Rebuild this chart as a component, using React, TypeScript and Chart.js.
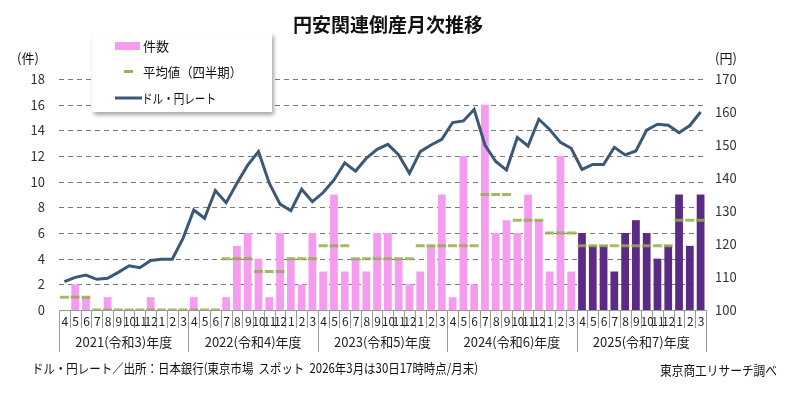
import { useRef, useEffect } from 'react';
import { Chart } from 'chart.js/auto';

// fiscal year = April .. March
const fiscalYears = ['2021(令和3)年度', '2022(令和4)年度', '2023(令和5)年度', '2024(令和6)年度', '2025(令和7)年度'];
const months = ['4', '5', '6', '7', '8', '9', '10', '11', '12', '1', '2', '3'];

// monthly bankruptcies (件)
const counts2021 = [0, 2, 1, 0, 1, 0, 0, 0, 1, 0, 0, 0];
const counts2022 = [1, 0, 0, 1, 5, 6, 4, 1, 6, 4, 2, 6];
const counts2023 = [3, 9, 3, 4, 3, 6, 6, 4, 2, 3, 5, 9];
const counts2024 = [1, 12, 2, 16, 6, 7, 6, 9, 7, 3, 12, 3];
const counts2025 = [6, 5, 5, 3, 6, 7, 6, 4, 5, 9, 5, 9];

// quarterly average (as plotted)
const quarterAvg = [
    [1, 0, 0, 0],
    [0, 4, 3, 4],
    [5, 4, 4, 5],
    [5, 9, 7, 6],
    [5, 5, 5, 7],
];

// USD/JPY month-end rate (円)
const rate2021 = [108.6, 109.9, 110.6, 109.3, 109.6, 111.4, 113.4, 112.8, 115.0, 115.4, 115.4, 121.7];
const rate2022 = [130.3, 127.8, 136.2, 132.5, 138.4, 143.9, 148.0, 138.4, 132.1, 130.1, 136.6, 132.8];
const rate2023 = [135.6, 139.4, 144.6, 142.1, 146.0, 148.7, 150.2, 147.0, 141.4, 148.0, 150.0, 151.7];
const rate2024 = [156.8, 157.3, 160.8, 150.0, 145.0, 142.4, 152.3, 149.7, 157.8, 154.7, 150.8, 149.0];
const rate2025 = [142.6, 144.1, 144.1, 149.3, 147.0, 148.2, 154.5, 156.3, 156.0, 153.7, 155.9, 160.0];

const leftTicks = [0, 18, 2];
const rightTicks = [100, 170, 10];

const FONT = '"Noto Sans CJK JP", "Noto Sans", sans-serif';
const PINK = '#f59cf0';
const PURPLE = '#5b2a84';
const LINE = '#3b5877';
const GREEN = '#9bb05a';

const labels = fiscalYears.flatMap(() => months.map((m) => m));
const counts = [...counts2021, ...counts2022, ...counts2023, ...counts2024, ...counts2025];
const rates = [...rate2021, ...rate2022, ...rate2023, ...rate2024, ...rate2025];
const avgs = quarterAvg.flatMap((q) => q.flatMap((v) => [v, v, v]));
const barColors = counts.map((_, i) => (i >= 48 ? PURPLE : PINK));

const overlay = {
    id: 'overlay',
    beforeDatasetsDraw(chart: any) {
        const { ctx, chartArea, scales } = chart;
        const x = scales.x;
        const y = scales.y;
        const w = x.getPixelForValue(1) - x.getPixelForValue(0);
        const bottom = chartArea.bottom;
        ctx.save();

        // dashed gridlines
        ctx.strokeStyle = '#7a7a7a';
        ctx.lineWidth = 1;
        ctx.setLineDash([5, 4]);
        ctx.beginPath();
        y.ticks.forEach((t: any) => {
            if (t.value === 0) return;
            const py = Math.round(y.getPixelForValue(t.value)) + 0.5;
            ctx.moveTo(chartArea.left, py);
            ctx.lineTo(chartArea.right, py);
        });
        ctx.stroke();
        ctx.setLineDash([]);

        // category axis cells
        ctx.strokeStyle = '#9a9a9a';
        ctx.beginPath();
        ctx.moveTo(chartArea.left, bottom + 0.5);
        ctx.lineTo(chartArea.right, bottom + 0.5);
        for (let i = 0; i <= labels.length; i++) {
            const bx = Math.round(x.getPixelForValue(0) - w / 2 + i * w) + 0.5;
            const long = i % 12 === 0;
            ctx.moveTo(bx, bottom);
            ctx.lineTo(bx, bottom + (long ? 42 : 18));
        }
        ctx.stroke();

        ctx.fillStyle = '#222';
        ctx.textAlign = 'center';
        ctx.textBaseline = 'middle';
        ctx.font = `12px ${FONT}`;
        labels.forEach((l, i) => {
            ctx.fillText(l, x.getPixelForValue(i) + 0.5, bottom + 11, w + 2);
        });
        ctx.font = `13px ${FONT}`;
        fiscalYears.forEach((fy, k) => {
            const cx = (x.getPixelForValue(k * 12) + x.getPixelForValue(k * 12 + 11)) / 2;
            ctx.fillText(fy, cx, bottom + 32);
        });
        ctx.restore();
    },
    afterDraw(chart: any) {
        const { ctx } = chart;
        ctx.save();
        ctx.fillStyle = '#111';
        ctx.textBaseline = 'middle';

        ctx.font = `bold 19px ${FONT}`;
        ctx.textAlign = 'center';
        ctx.fillText('円安関連倒産月次推移', 388, 25);

        ctx.font = `13px ${FONT}`;
        ctx.textAlign = 'left';
        ctx.fillText('(件)', 17, 58);
        ctx.fillText('(円)', 715, 58);
        ctx.fillText('ドル・円レート／出所：日本銀行(東京市場  スポット  2026年3月は30日17時時点/月末)', 32, 368, 446);
        ctx.fillText('東京商工リサーチ調べ', 660, 370, 117);

        // legend box
        ctx.shadowColor = 'rgba(0,0,0,0.35)';
        ctx.shadowBlur = 4;
        ctx.shadowOffsetX = 2;
        ctx.shadowOffsetY = 3;
        ctx.fillStyle = '#fff';
        ctx.fillRect(92, 33, 180, 79);
        ctx.shadowColor = 'transparent';

        ctx.fillStyle = PINK;
        ctx.fillRect(115, 42, 25, 8);
        ctx.fillStyle = GREEN;
        ctx.fillRect(124, 70, 9, 3);
        ctx.strokeStyle = LINE;
        ctx.lineWidth = 3;
        ctx.beginPath();
        ctx.moveTo(115, 98);
        ctx.lineTo(142, 98);
        ctx.stroke();

        ctx.fillStyle = '#111';
        ctx.fillText('件数', 143, 46);
        ctx.fillText('平均値（四半期）', 143, 72, 99);
        ctx.fillText('ドル・円レート', 142, 98, 74);
        ctx.restore();
    },
};

const App = () => {
    const canvasRef = useRef(null);
    const chartRef = useRef(null);

    useEffect(() => {
        if (!canvasRef.current) return;
        document.body.style.margin = '0';
        if (chartRef.current) chartRef.current.destroy();

        chartRef.current = new Chart(canvasRef.current, {
            type: 'bar',
            data: {
                labels,
                datasets: [
                    {
                        type: 'line',
                        label: 'ドル・円レート',
                        data: rates,
                        yAxisID: 'y2',
                        borderColor: LINE,
                        borderWidth: 3,
                        pointRadius: 0,
                        tension: 0,
                        order: 0,
                    },
                    {
                        type: 'line',
                        label: '平均値（四半期）',
                        data: avgs,
                        yAxisID: 'y',
                        showLine: false,
                        pointStyle: 'line',
                        pointRadius: 4.5,
                        pointBorderWidth: 3,
                        pointBorderColor: 'rgba(150,172,80,0.85)',
                        order: 1,
                    },
                    {
                        label: '件数',
                        data: counts,
                        yAxisID: 'y',
                        backgroundColor: barColors,
                        categoryPercentage: 1,
                        barPercentage: 0.72,
                        order: 2,
                    },
                ],
            },
            options: {
                responsive: true,
                maintainAspectRatio: false,
                animation: false,
                layout: { padding: { top: 79, bottom: 90, left: 0, right: 0 } },
                plugins: {
                    legend: { display: false },
                    tooltip: { enabled: false },
                },
                scales: {
                    x: { display: false, offset: true },
                    y: {
                        position: 'left',
                        min: leftTicks[0],
                        max: leftTicks[1],
                        ticks: { stepSize: leftTicks[2], padding: 14, color: '#333', font: { family: FONT, size: 13 } },
                        border: { display: false },
                        grid: { display: false, drawTicks: false },
                        afterFit: (s: any) => { s.width = 59; },
                    },
                    y2: {
                        position: 'right',
                        min: rightTicks[0],
                        max: rightTicks[1],
                        ticks: { stepSize: rightTicks[2], padding: 9, color: '#333', font: { family: FONT, size: 13 } },
                        border: { display: false },
                        grid: { display: false, drawTicks: false },
                        afterFit: (s: any) => { s.width = 81; },
                    },
                },
            },
            plugins: [overlay],
        });

        return () => { if (chartRef.current) chartRef.current.destroy(); };
    }, []);

    return (
        <div style={{ position: 'relative', width: 787, height: 400, background: '#fff' }}>
            <canvas ref={canvasRef}></canvas>
        </div>
    );
};

export default App;
